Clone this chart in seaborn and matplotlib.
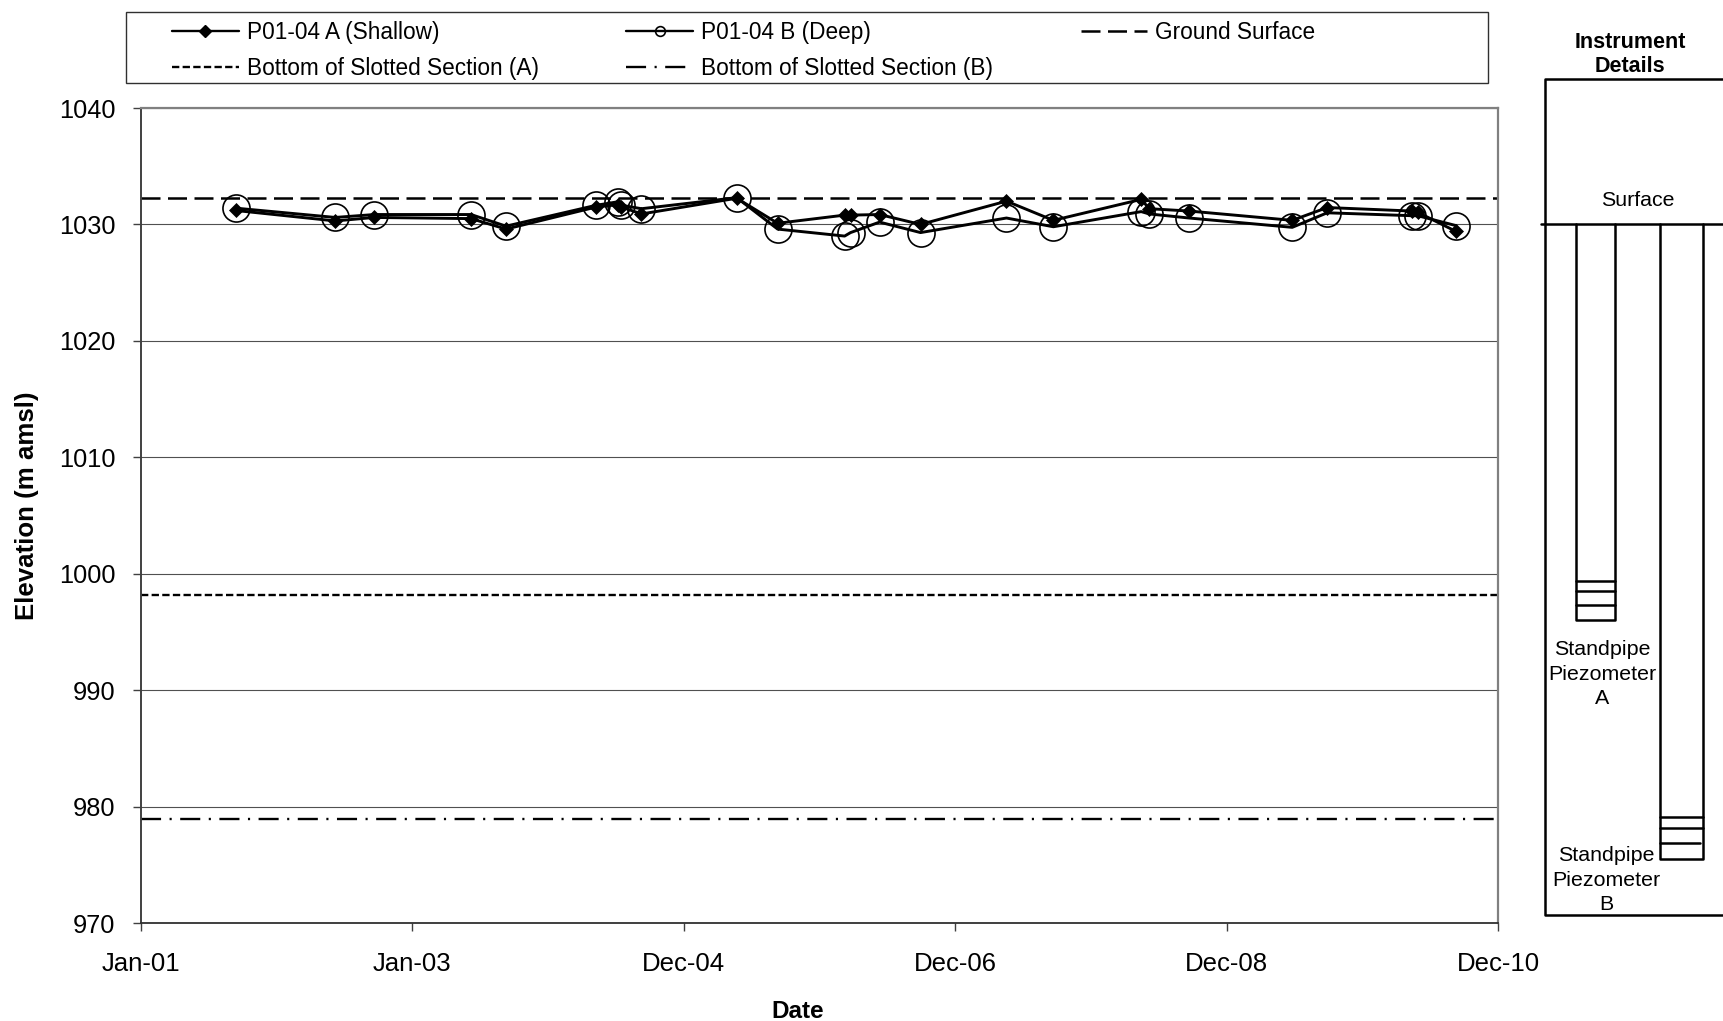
import matplotlib
matplotlib.use("Agg")
import matplotlib.pyplot as plt
import matplotlib.dates as mdates
from matplotlib.lines import Line2D
from matplotlib.patches import Rectangle
import pandas as pd
import seaborn as sns

# sampling dates
dates = ["2001-09-13", "2002-06-08", "2002-09-21", "2003-06-08", "2003-09-10",
         "2004-05-10", "2004-07-08", "2004-07-16", "2004-09-08", "2005-05-22",
         "2005-09-09", "2006-03-08", "2006-03-24", "2006-06-10", "2006-09-28",
         "2007-05-17", "2007-09-20", "2008-05-13", "2008-06-04", "2008-09-19",
         "2009-06-23", "2009-09-25", "2010-05-10", "2010-05-26", "2010-09-06"]
shallow = [1031.2, 1030.3, 1030.6, 1030.5, 1029.6, 1031.5, 1031.7, 1031.5, 1030.9, 1032.25,
           1030.1, 1030.8, 1030.8, 1030.85, 1030.0, 1032.0, 1030.35, 1032.15, 1031.35, 1031.15,
           1030.35, 1031.45, 1031.15, 1031.05, 1029.4]
deep = [1031.4, 1030.6, 1030.85, 1030.85, 1029.85, 1031.65, 1031.95, 1031.65, 1031.35, 1032.3,
        1029.6, 1029.0, 1029.3, 1030.2, 1029.3, 1030.55, 1029.8, 1031.1, 1030.9, 1030.55,
        1029.75, 1031.0, 1030.75, 1030.75, 1029.9]

ground_surface = 1032.3
slot_bottom_a = 998.2
slot_bottom_b = 978.9

x_ticks = ["2001-01-02", "2003-01-01", "2004-12-31", "2006-12-30", "2008-12-29", "2010-12-28"]
y_ticks = [970, 980, 990, 1000, 1010, 1020, 1030, 1040]

W, H = 1724, 1021
FS = 16.25


def fx(px):
    return px / W


def fy(px):
    return 1 - px / H


sns.set_theme(style="white")
plt.rcParams["font.family"] = ["Liberation Sans", "DejaVu Sans"]
plt.rcParams["text.color"] = "black"
plt.rcParams["xtick.labelcolor"] = "black"
plt.rcParams["ytick.labelcolor"] = "black"

df = pd.DataFrame({"date": pd.to_datetime(dates), "shallow": shallow, "deep": deep})
tick_dates = pd.to_datetime(x_ticks)

fig = plt.figure(figsize=(W / 100, H / 100), dpi=100)
ax = fig.add_axes([fx(141), fy(923), fx(1498 - 141), (923 - 108) / H])

ax.yaxis.grid(True, color="#505050", lw=0.8)
ax.set_axisbelow(True)

sns.lineplot(data=df, x="date", y="deep", ax=ax, color="black", lw=2.1, estimator=None, sort=False,
             marker="o", ms=19.5, mfc="none", mec="black", mew=1.2, zorder=3)
sns.lineplot(data=df, x="date", y="shallow", ax=ax, color="black", lw=2.1, estimator=None, sort=False,
             marker="D", ms=7.5, mfc="black", mec="black", mew=0.5, zorder=4)

ground_style = (0, (7.6, 3))
slot_a_style = (0, (3.1, 1.4))
slot_b_style = (0, (8.5, 3.6, 0.9, 3.6))
ax.axhline(ground_surface, color="black", lw=1.8, ls=ground_style, zorder=2)
ax.axhline(slot_bottom_a, color="black", lw=1.7, ls=slot_a_style, zorder=2)
ax.axhline(slot_bottom_b, color="black", lw=1.7, ls=slot_b_style, zorder=2)

ax.set_xlim(tick_dates[0], tick_dates[-1])
ax.set_ylim(970, 1040)
ax.set_xticks(tick_dates)
ax.xaxis.set_major_formatter(mdates.DateFormatter("%b-%y"))
ax.set_yticks(y_ticks)
ax.tick_params(axis="x", bottom=True, length=5.8, width=1, color="#404040", pad=15.2, labelsize=18.5)
ax.tick_params(axis="y", left=True, length=5.8, width=1, color="#404040", pad=12.5, labelsize=18.3)
ax.set_xlabel("")
ax.set_ylabel("")

for side in ["top", "right"]:
    ax.spines[side].set_color("#808080")
    ax.spines[side].set_linewidth(1.6)
ax.spines["left"].set_color("#404040")
ax.spines["left"].set_linewidth(1.4)
ax.spines["bottom"].set_color("#303030")
ax.spines["bottom"].set_linewidth(1.3)

fig.text(fx(27), fy(506), "Elevation (m amsl)", rotation=90, ha="center", va="center",
         fontsize=18.6, fontweight="bold")
fig.text(fx(798), fy(1011), "Date", ha="center", va="center", fontsize=17.5, fontweight="bold")

# legend frame is separate, the text only fills the left part of it
fig.add_artist(Rectangle((fx(126), fy(83)), fx(1488 - 126), (83 - 12.5) / H, transform=fig.transFigure,
                         fill=False, ec="#303030", lw=1))
handles = [
    Line2D([], [], color="black", lw=1.7, marker="D", ms=6.5, mfc="black", mec="black"),
    Line2D([], [], color="black", lw=1.7, ls=slot_a_style),
    Line2D([], [], color="black", lw=1.7, marker="o", ms=7, mfc="none", mec="black", mew=1.2),
    Line2D([], [], color="black", lw=1.7, ls=slot_b_style),
    Line2D([], [], color="black", lw=1.8, ls=ground_style),
]
labels = ["P01-04 A (Shallow)", "Bottom of Slotted Section (A)", "P01-04 B (Deep)",
          "Bottom of Slotted Section (B)", "Ground Surface"]
# keep columns in the reference order (rows: A, B, Ground / slot A, slot B)
fig.legend(handles, labels, ncol=3, frameon=False, fontsize=FS, loc="upper left",
           bbox_to_anchor=(fx(172), fy(21)), borderaxespad=0, borderpad=0,
           handlelength=2.96, handletextpad=0.36, columnspacing=3.87, labelspacing=0.58)

# instrument sketch drawn in pixel coordinates of the page
sk = fig.add_axes([0, 0, 1, 1], facecolor="none", zorder=5)
sk.set_xlim(0, W)
sk.set_ylim(H, 0)
sk.axis("off")
lw = 1.8
# outer box, runs off the right of the page
sk.plot([1724, 1545, 1545, 1724], [79, 79, 915, 915], color="black", lw=lw)
sk.plot([1541, 1724], [224, 224], color="black", lw=lw)
# piezometer A
sk.plot([1576.5, 1576.5, 1615, 1615], [224, 620, 620, 224], color="black", lw=lw)
for y in [581, 591, 605]:
    sk.plot([1576.5, 1615], [y, y], color="black", lw=lw)
# piezometer B
sk.plot([1660.5, 1660.5, 1703, 1703], [224, 859, 859, 224], color="black", lw=lw)
for y in [817, 828]:
    sk.plot([1660.5, 1703], [y, y], color="black", lw=lw)
sk.plot([1660.5, 1700], [843, 843], color="black", lw=lw)

sk.text(1630, 54.5, "Instrument\nDetails", ha="center", va="center", fontsize=15.5, fontweight="bold",
        linespacing=1.25)
sk.text(1638, 200, "Surface", ha="center", va="center", fontsize=15.4)
sk.text(1602, 674, "Standpipe\nPiezometer\nA", ha="center", va="center", fontsize=15.4, linespacing=1.37)
sk.text(1606, 880, "Standpipe\nPiezometer\nB", ha="center", va="center", fontsize=15.4, linespacing=1.37)

fig.savefig("out.png", dpi=100, facecolor="white")
plt.close(fig)
